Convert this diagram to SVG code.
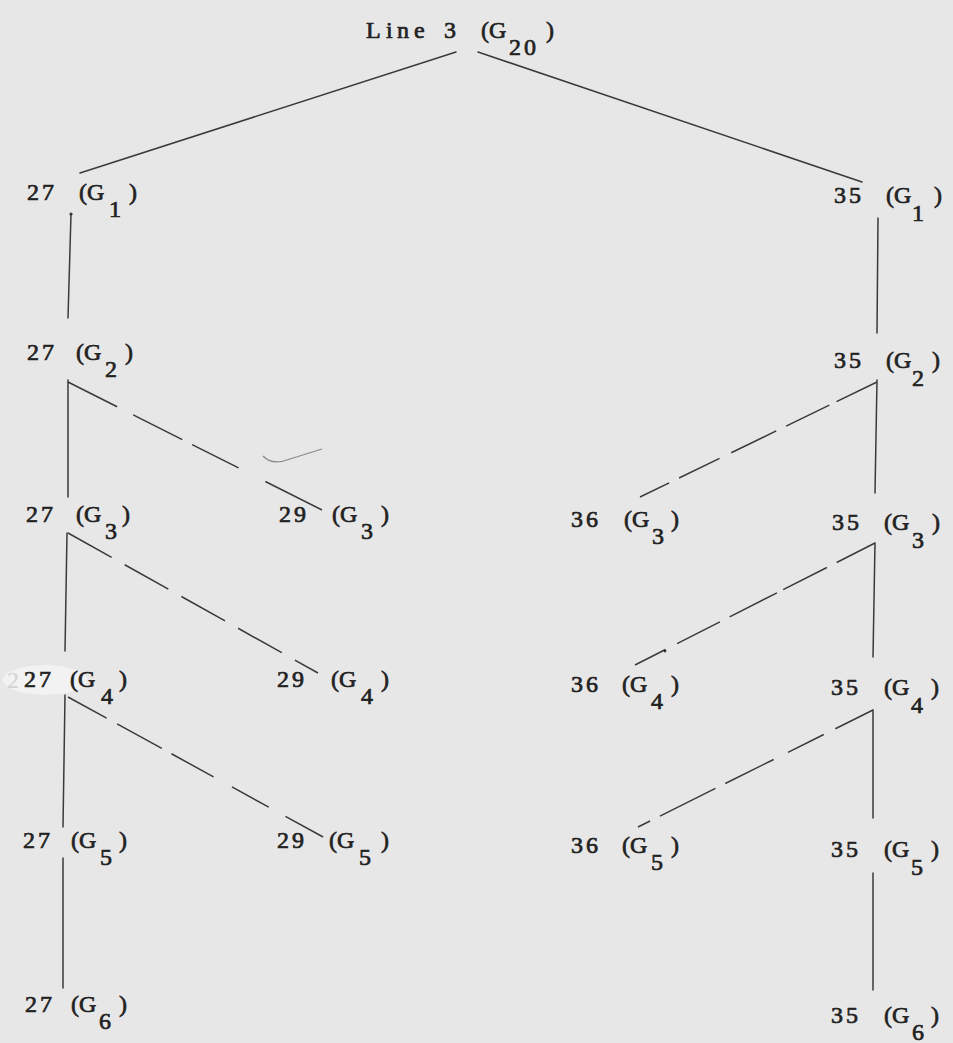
<svg xmlns="http://www.w3.org/2000/svg" width="953" height="1043" viewBox="0 0 953 1043">
<style>
.t{font-family:"Liberation Serif","DejaVu Serif",serif;font-size:24px;fill:#222;stroke:#222;stroke-width:0.7}
.s{stroke:#3a3a3a;stroke-width:1.5;fill:none;stroke-linecap:round}
.d{stroke:#3a3a3a;stroke-width:1.5;fill:none}
</style>
<rect width="953" height="1043" fill="#e7e7e7"/>
<ellipse cx="45" cy="680" rx="42" ry="15" fill="#f2f2f2"/>
<text x="7" y="688" font-family="Liberation Serif,serif" font-size="24" fill="#d2d2d2">2</text>
<path d="M263 456 Q272 466 290 459 L322 449" stroke="#8a8a8a" stroke-width="1.2" fill="none"/>
<g id="connectors">
<line class="s" x1="456" y1="52" x2="80" y2="173"/>
<line class="s" x1="478" y1="52" x2="862" y2="182"/>
<circle cx="71" cy="214" r="1.6" fill="#333"/>
<line class="s" x1="71" y1="214" x2="68" y2="318"/>
<line class="s" x1="68" y1="380" x2="68" y2="497"/>
<line class="s" x1="67" y1="533" x2="65" y2="651"/>
<line class="s" x1="65" y1="695" x2="63" y2="827"/>
<line class="s" x1="63" y1="858" x2="63" y2="988"/>
<line class="d" x1="68" y1="382" x2="322" y2="510" stroke-dasharray="55 18 55 11 52 30 64 10"/>
<line class="d" x1="68" y1="533" x2="318" y2="673" stroke-dasharray="50 15"/>
<line class="d" x1="68" y1="697" x2="325" y2="838" stroke-dasharray="44 12 51 11 48 21 42 19 43"/>
<line class="s" x1="878" y1="218" x2="877" y2="333"/>
<line class="s" x1="877" y1="380" x2="875" y2="493"/>
<line class="s" x1="875" y1="543" x2="873" y2="657"/>
<line class="s" x1="873" y1="710" x2="873" y2="818"/>
<line class="s" x1="873" y1="873" x2="873" y2="990"/>
<line class="d" x1="877" y1="382" x2="640" y2="497" stroke-dasharray="45 8 48 11 50 13 45 11 40"/>
<line class="d" x1="875" y1="543" x2="635" y2="665" stroke-dasharray="43 11 49 7 53 11 48 13 40"/>
<circle cx="665" cy="651" r="1.4" fill="#333"/>
<line class="d" x1="873" y1="710" x2="638" y2="827" stroke-dasharray="42 13 40 16 54 11 62 11 30"/>
</g>
<g id="title"><text class="t"><tspan x="366 386 397 414 444" y="38">Line3</tspan><tspan x="481 489" y="38">(G</tspan><tspan x="509 524" y="55">20</tspan><tspan x="546" y="38">)</tspan></text></g>
<g id="n27g1"><text class="t"><tspan x="27 42" y="200">27</tspan><tspan x="79 87" y="200">(G</tspan><tspan x="109" y="217">1</tspan><tspan x="129" y="200">)</tspan></text></g>
<g id="n27g2"><text class="t"><tspan x="27 42" y="360">27</tspan><tspan x="76 84" y="360">(G</tspan><tspan x="105" y="377">2</tspan><tspan x="125" y="360">)</tspan></text></g>
<g id="n27g3"><text class="t"><tspan x="26 41" y="522">27</tspan><tspan x="76 84" y="522">(G</tspan><tspan x="105" y="539">3</tspan><tspan x="122" y="522">)</tspan></text></g>
<g id="n27g4"><text class="t"><tspan x="24 39" y="687">27</tspan><tspan x="70 78" y="687">(G</tspan><tspan x="101" y="704">4</tspan><tspan x="119" y="687">)</tspan></text></g>
<g id="n27g5"><text class="t"><tspan x="23 38" y="848">27</tspan><tspan x="71 79" y="848">(G</tspan><tspan x="100" y="865">5</tspan><tspan x="119" y="848">)</tspan></text></g>
<g id="n27g6"><text class="t"><tspan x="25 40" y="1012">27</tspan><tspan x="71 79" y="1012">(G</tspan><tspan x="99" y="1029">6</tspan><tspan x="119" y="1012">)</tspan></text></g>
<g id="n29g3"><text class="t"><tspan x="279 294" y="522">29</tspan><tspan x="332 340" y="522">(G</tspan><tspan x="361" y="539">3</tspan><tspan x="381" y="522">)</tspan></text></g>
<g id="n29g4"><text class="t"><tspan x="277 292" y="687">29</tspan><tspan x="331 339" y="687">(G</tspan><tspan x="361" y="704">4</tspan><tspan x="381" y="687">)</tspan></text></g>
<g id="n29g5"><text class="t"><tspan x="277 292" y="848">29</tspan><tspan x="329 337" y="848">(G</tspan><tspan x="359" y="865">5</tspan><tspan x="381" y="848">)</tspan></text></g>
<g id="n36g3"><text class="t"><tspan x="571 586" y="527">36</tspan><tspan x="624 632" y="527">(G</tspan><tspan x="652" y="544">3</tspan><tspan x="671" y="527">)</tspan></text></g>
<g id="n36g4"><text class="t"><tspan x="571 586" y="692">36</tspan><tspan x="622 630" y="692">(G</tspan><tspan x="651" y="709">4</tspan><tspan x="671" y="692">)</tspan></text></g>
<g id="n36g5"><text class="t"><tspan x="571 586" y="853">36</tspan><tspan x="622 630" y="853">(G</tspan><tspan x="651" y="870">5</tspan><tspan x="671" y="853">)</tspan></text></g>
<g id="n35g1"><text class="t"><tspan x="834 849" y="203">35</tspan><tspan x="886 894" y="203">(G</tspan><tspan x="912" y="221">1</tspan><tspan x="934" y="203">)</tspan></text></g>
<g id="n35g2"><text class="t"><tspan x="834 849" y="368">35</tspan><tspan x="886 894" y="368">(G</tspan><tspan x="912" y="386">2</tspan><tspan x="932" y="368">)</tspan></text></g>
<g id="n35g3"><text class="t"><tspan x="832 847" y="530">35</tspan><tspan x="884 892" y="530">(G</tspan><tspan x="912" y="548">3</tspan><tspan x="932" y="530">)</tspan></text></g>
<g id="n35g4"><text class="t"><tspan x="831 846" y="695">35</tspan><tspan x="884 892" y="695">(G</tspan><tspan x="911" y="713">4</tspan><tspan x="931" y="695">)</tspan></text></g>
<g id="n35g5"><text class="t"><tspan x="831 846" y="857">35</tspan><tspan x="884 892" y="857">(G</tspan><tspan x="911" y="875">5</tspan><tspan x="931" y="857">)</tspan></text></g>
<g id="n35g6"><text class="t"><tspan x="831 846" y="1023">35</tspan><tspan x="884 892" y="1023">(G</tspan><tspan x="912" y="1040">6</tspan><tspan x="931" y="1023">)</tspan></text></g>
</svg>
